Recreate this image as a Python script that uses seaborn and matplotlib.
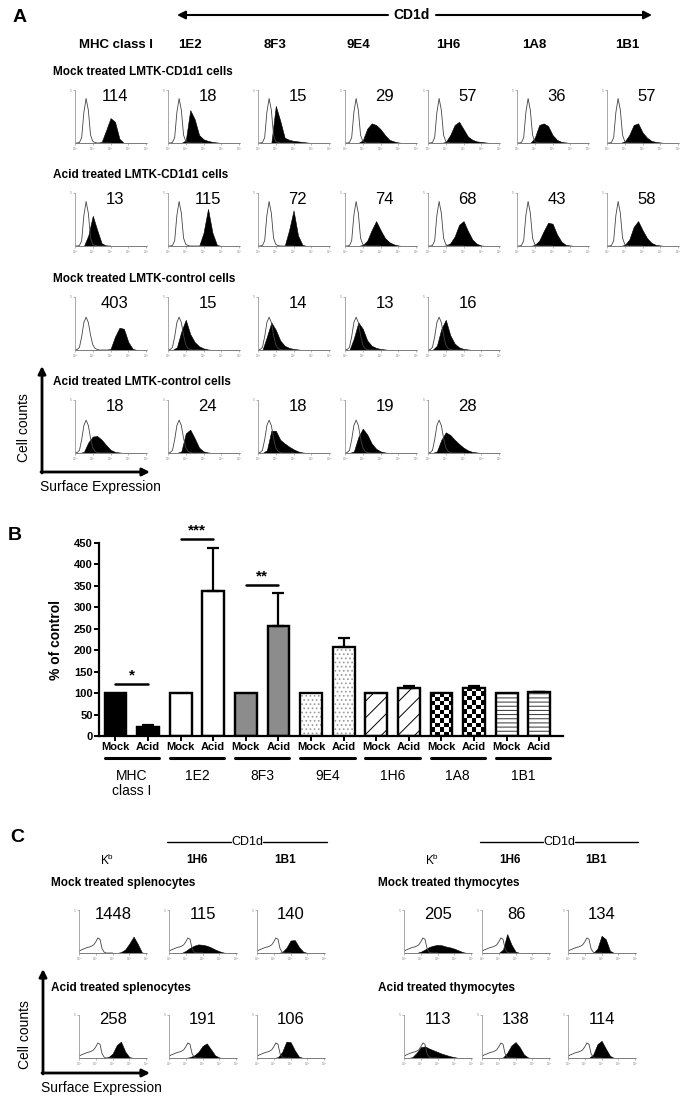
import numpy as np
import pandas as pd
import matplotlib
matplotlib.use('Agg')
import matplotlib.pyplot as plt
import matplotlib.transforms as mtrans
import seaborn as sns
from matplotlib import font_manager
from matplotlib.patches import Rectangle

W, H = 689, 1103

# ---------------- data: panel A (flow histograms) ----------------
a_headers = ['MHC class I', '1E2', '8F3', '9E4', '1H6', '1A8', '1B1']
a_rows = ['Mock treated LMTK-CD1d1 cells', 'Acid treated LMTK-CD1d1 cells',
          'Mock treated LMTK-control cells', 'Acid treated LMTK-control cells']
a_mfi = [[114, 18, 15, 29, 57, 36, 57],
         [13, 115, 72, 74, 68, 43, 58],
         [403, 15, 14, 13, 16],
         [18, 24, 18, 19, 28]]

# histogram heights (% of box) on log decades 0..4, step 0.25
hx = np.arange(0, 4.01, 0.25)
a_fill = [
    [[0,0,0,0,0,0,2,24,47,40,8,0,0,0,0,0,0],
     [0,0,0,0,5,62,45,15,7,4,2,1,0,0,0,0,0],
     [0,0,0,0,70,42,10,6,4,3,2,1,0,0,0,0,0],
     [0,0,0,0,5,27,37,34,26,15,6,3,1,0,0,0,0],
     [0,0,0,0,2,15,34,40,26,12,6,3,2,1,0,0,0],
     [0,0,0,0,10,34,37,32,15,6,2,1,0,0,0,0,0],
     [0,0,0,0,3,15,34,37,20,10,4,2,1,0,0,0,0]],
    [[0,0,0,20,57,30,5,1,0,0,0,0,0,0,0,0,0],
     [0,0,0,0,0,0,0,0,25,70,25,2,0,0,0,0,0],
     [0,0,0,0,0,0,0,30,67,20,2,0,0,0,0,0,0],
     [0,0,0,0,2,10,30,47,30,15,7,3,1,0,0,0,0],
     [0,0,0,0,1,5,18,40,47,28,12,4,1,0,0,0,0],
     [0,0,0,0,2,10,28,44,42,22,8,2,1,0,0,0,0],
     [0,0,0,0,2,12,36,47,30,15,6,2,1,0,0,0,0]],
    [[0,0,0,0,0,0,0,0,2,25,42,40,15,2,0,0,0],
     [0,0,5,35,57,30,15,7,3,1,0,0,0,0,0,0,0],
     [0,0,25,52,38,18,8,4,2,1,0,0,0,0,0,0,0],
     [0,0,22,52,40,18,8,4,2,1,0,0,0,0,0,0,0],
     [0,0,8,40,57,28,12,5,2,1,0,0,0,0,0,0,0]],
    [[0,0,2,20,31,32,25,15,6,2,1,0,0,0,0,0,0],
     [0,0,0,3,37,44,28,10,3,1,0,0,0,0,0,0,0],
     [0,0,5,42,42,25,18,12,7,3,1,0,0,0,0,0,0],
     [0,0,3,30,46,35,18,8,3,1,0,0,0,0,0,0,0],
     [0,0,3,25,39,34,25,17,10,5,2,1,0,0,0,0,0]],
]

# isotype (open) curves on log decades 0..2, step 0.125
iso_x = np.arange(0, 2.01, 0.125)
iso_narrow = [0,0,1,10,58,84,62,15,3,1,0,0,0,0,0,0,0]
iso_broad = [0,1,5,25,52,62,52,28,10,3,1,0,0,0,0,0,0]
iso_cells = [4,7,9,11,13,14,16,19,26,35,32,10,2,0,0,0,0]

# ---------------- data: panel B (bar chart) ----------------
b_groups = ['MHC\nclass I', '1E2', '8F3', '9E4', '1H6', '1A8', '1B1']
b_conds = ['Mock', 'Acid']
b_mock = [100, 100, 100, 100, 100, 100, 100]
b_acid = [20, 339, 257, 207, 112, 112, 102]
b_acid_err = [5, 100, 77, 21, 5, 5, 1]
b_sig = [(0, '*', 121), (1, '***', 460), (2, '**', 352)]

# ---------------- data: panel C (primary cells) ----------------
c_headers = ['K$^{\\mathregular{b}}$', '1H6', '1B1']
c_rows = [['Mock treated splenocytes', 'Mock treated thymocytes'],
          ['Acid treated splenocytes', 'Acid treated thymocytes']]
c_mfi = [[[1448, 115, 140], [205, 86, 134]],
         [[258, 191, 106], [113, 138, 114]]]
c_fill = [
    [[[0,0,0,0,0,0,0,0,0,0,2,8,22,38,21,1,0],
      [0,0,0,0,5,12,17,20,19,17,13,8,4,1,0,0,0],
      [0,0,0,0,0,0,2,12,29,30,14,3,0,0,0,0,0]],
     [[0,0,0,0,3,8,14,17,19,18,15,13,10,6,2,0,0],
      [0,0,0,0,0,8,44,20,3,0,0,0,0,0,0,0,0],
      [0,0,0,0,0,0,0,10,40,32,5,0,0,0,0,0,0]]],
    [[[0,0,0,0,0,0,0,2,10,30,38,15,2,0,0,0,0],
      [0,0,0,0,0,2,6,14,28,34,20,6,1,0,0,0,0],
      [0,0,0,0,0,2,14,38,37,18,3,0,0,0,0,0,0]],
     [[0,0,2,12,25,27,22,18,14,10,7,4,2,0,0,0,0],
      [0,0,0,0,0,1,12,29,37,25,8,1,0,0,0,0,0],
      [0,0,0,0,0,0,8,32,40,22,5,0,0,0,0,0,0]]],
]

# ---------------- style ----------------
sns.set_theme(style='white')
names = {f.name for f in font_manager.fontManager.ttflist}
plt.rcParams['font.family'] = ['Liberation Sans', 'DejaVu Sans']
plt.rcParams['hatch.linewidth'] = 0.7
for key in ['text.color', 'axes.labelcolor', 'xtick.color', 'ytick.color', 'axes.edgecolor']:
    plt.rcParams[key] = 'black'
narrow = 'Liberation Sans Narrow' if 'Liberation Sans Narrow' in names else 'Liberation Sans'

fig = plt.figure(figsize=(W / 100, H / 100), dpi=100)
ov = fig.add_axes([0, 0, 1, 1])
ov.set_xlim(0, W)
ov.set_ylim(H, 0)
ov.axis('off')


def px_axes(left, top, w, h):
    return fig.add_axes([left / W, 1 - (top + h) / H, w / W, h / H])


def flow_hist(left, top, w, h, fill_vals, iso_vals, mfi, numx=0.55, numy=0.87):
    ax = px_axes(left, top, w, h)
    ax.fill_between(hx, fill_vals, color='black', lw=0.4)
    ax.plot(iso_x, iso_vals, color='#444444', lw=0.6)
    ax.set_xlim(0, 4.05)
    ax.set_ylim(0, 100)
    sns.despine(ax=ax)
    for s in ['left', 'bottom']:
        ax.spines[s].set_color('#999999')
        ax.spines[s].set_linewidth(0.6)
    ax.set_xticks(range(5))
    ax.set_xticklabels(['10$^{%d}$' % k for k in range(5)], fontsize=2.2, color='#888888')
    ax.set_yticks([100])
    ax.set_yticklabels(['5'], fontsize=2.5, color='#888888')
    ax.tick_params(axis='both', bottom=True, left=True, length=1.5, width=0.5,
                   color='#999999', pad=0.5)
    ax.text(numx, numy, str(mfi), transform=ax.transAxes, ha='center', va='center',
            fontsize=12, color='black')
    ax.patch.set_alpha(0)
    return ax


def axes_arrows(x0, y0, y_top, x_right, y_text_center):
    kw = dict(arrowstyle='-|>', lw=2, color='black', mutation_scale=11, shrinkA=0, shrinkB=0)
    ov.annotate('', xy=(x0, y_top), xytext=(x0, y0 + 1), arrowprops=kw)
    ov.annotate('', xy=(x_right, y0), xytext=(x0 - 1, y0), arrowprops=kw)
    ov.text(x0 - 18, y_text_center, 'Cell counts', rotation=90, ha='center', va='center', fontsize=10)
    ov.text(x0 - 2, y0 + 15, 'Surface Expression', ha='left', va='center', fontsize=10)


# ---------------- panel A ----------------
ov.text(20, 17, 'A', fontsize=14, fontweight='bold', ha='center', va='center')
ov.text(412, 15, 'CD1d', fontsize=10, fontweight='bold', ha='center', va='center')
arr = dict(arrowstyle='-|>', lw=1.5, color='black', mutation_scale=12, shrinkA=0, shrinkB=0)
ov.annotate('', xy=(177, 15), xytext=(388, 15), arrowprops=arr)
ov.annotate('', xy=(652, 15), xytext=(436, 15), arrowprops=arr)

a_lefts = [75, 168, 258, 345, 428, 517, 607]
a_head_x = [116, 190, 275, 358, 448, 534, 627]
for hx_pos, lab in zip(a_head_x, a_headers):
    ov.text(hx_pos, 45, lab, fontsize=9.5, fontweight='bold', ha='center', va='center')

a_tops = [90, 193, 297, 400]
for r, row_label in enumerate(a_rows):
    ov.text(53, a_tops[r] - 18, row_label, fontsize=8.5, fontweight='bold', ha='left', va='center')
    iso = iso_narrow if r < 2 else iso_broad
    for c, mfi in enumerate(a_mfi[r]):
        flow_hist(a_lefts[c], a_tops[r], 72, 53, a_fill[r][c], iso, mfi)

axes_arrows(42, 472, 366, 150, 428)

# ---------------- panel B ----------------
ov.text(15, 535, 'B', fontsize=14, fontweight='bold', ha='center', va='center')

bars = pd.DataFrame({
    'bar': [f'{g}|{c}' for g in b_groups for c in b_conds],
    'cond': [c for g in b_groups for c in b_conds],
    'pct': [v for pair in zip(b_mock, b_acid) for v in pair],
})
b_fill = ['black', 'white', '#8c8c8c', 'white', 'white', 'white', 'white']
b_hatch = ['', '', '', '....', '//', 'checker', '----']
b_hatch_col = ['black', 'black', 'black', '#9a9a9a', 'black', 'black', '#333333']

axb = px_axes(99, 543, 464, 193)
sns.barplot(data=bars, x='bar', y='pct', order=list(bars['bar']), ax=axb, width=0.67,
            color='white', edgecolor='black', linewidth=1.6, errorbar=None)
xlim = (-0.506, 13.73)
ylim = (0, 450)
cell_x = 0.67 / 5
cell_y = cell_x * (32.6 / (193 / 450))
patches = list(axb.patches)
for k, p in enumerate(patches):
    g = k // 2
    p.set_facecolor(b_fill[g])
    if b_hatch[g] == 'checker':
        x0, w, hgt = p.get_x(), p.get_width(), p.get_height()
        ny = int(np.ceil(hgt / cell_y))
        board = np.add.outer(np.arange(ny), np.arange(5)) % 2
        im = axb.imshow(board, cmap='gray_r', extent=(x0, x0 + w, 0, ny * cell_y),
                        origin='lower', aspect='auto', interpolation='nearest', zorder=2)
        im.set_clip_path(p)
    elif b_hatch[g]:
        p.set_hatch(b_hatch[g])
        p.set_edgecolor(b_hatch_col[g])
    axb.add_patch(Rectangle(p.get_xy(), p.get_width(), p.get_height(), fill=False,
                            ec='black', lw=1.6, zorder=3))

acid_x = [2 * i + 1 for i in range(len(b_groups))]
axb.errorbar(acid_x, b_acid, yerr=[np.zeros(len(b_acid)), b_acid_err], fmt='none',
             ecolor='black', elinewidth=1.6, capsize=4, capthick=1.6, zorder=4)

for g, star, yv in b_sig:
    axb.plot([2 * g, 2 * g + 1], [yv, yv], color='black', lw=1.8, clip_on=False)
    axb.text(2 * g + 0.5, yv + 3, star, ha='center', va='bottom', fontsize=11,
             fontweight='bold', clip_on=False)

axb.set_xlim(*xlim)
axb.set_ylim(*ylim)
sns.despine(ax=axb)
for s in ['left', 'bottom']:
    axb.spines[s].set_linewidth(1.6)
    axb.spines[s].set_color('black')
axb.set_yticks(range(0, 451, 50))
axb.set_yticklabels([str(v) for v in range(0, 451, 50)], fontweight='bold', fontsize=8)
axb.set_xticks(range(len(bars)))
axb.set_xticklabels(bars['cond'], fontweight='bold', fontsize=8, family=narrow)
axb.tick_params(axis='both', bottom=True, left=True, length=3.5, width=1.4, color='black', pad=1)
axb.set_xlabel('')
axb.set_ylabel('% of control', fontweight='bold', fontsize=10)
axb.yaxis.set_label_coords(-0.078, 0.5)
axb.patch.set_alpha(0)

tr = mtrans.blended_transform_factory(axb.transData, axb.transAxes)
for g, lab in enumerate(b_groups):
    pm, pa = patches[2 * g], patches[2 * g + 1]
    axb.plot([pm.get_x(), pa.get_x() + pa.get_width()], [-0.114, -0.114], transform=tr,
             color='black', lw=2.2, clip_on=False)
    axb.text(2 * g + 0.5, -0.172, lab, transform=tr, ha='center', va='top', fontsize=10,
             family=narrow, linespacing=1.05)

# ---------------- panel C ----------------
ov.text(17, 838, 'C', fontsize=14, fontweight='bold', ha='center', va='center')
c_lefts = [[79, 169, 257], [404, 482, 568]]
c_tops = [910, 1015]
c_label_x = [51, 378]
for side in range(2):
    l0, l2 = c_lefts[side][1] - 2, c_lefts[side][2] + 70
    mid = (l0 + l2) / 2
    ov.plot([l0, mid - 16], [842, 842], color='black', lw=1)
    ov.plot([mid + 16, l2], [842, 842], color='black', lw=1)
    ov.text(mid, 842, 'CD1d', fontsize=9, ha='center', va='center')
    for c, lab in enumerate(c_headers):
        ov.text(c_lefts[side][c] + 28, 860, lab, fontsize=8.5,
                fontweight='normal' if c == 0 else 'bold', ha='center', va='center')
    for r in range(2):
        ov.text(c_label_x[side], c_tops[r] - 27, c_rows[r][side], fontsize=8.5,
                fontweight='bold', ha='left', va='center')
        for c in range(3):
            flow_hist(c_lefts[side][c], c_tops[r], 68, 43, c_fill[r][side][c], iso_cells,
                      c_mfi[r][side][c], numx=0.5, numy=0.9)

axes_arrows(43, 1073, 969, 150, 1035)

fig.savefig('out.png', dpi=100)
